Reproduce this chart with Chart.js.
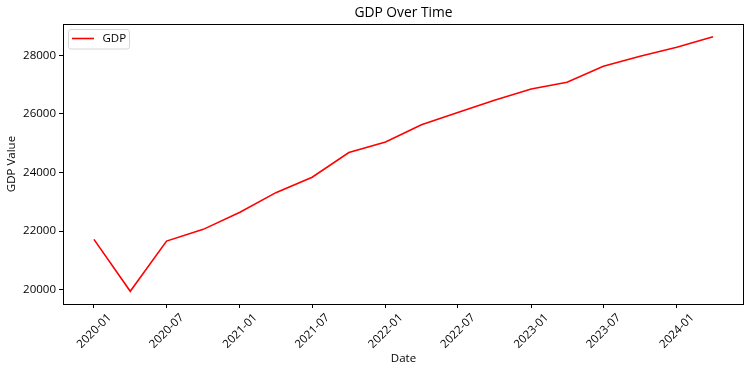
<!DOCTYPE html>
<html><head><meta charset="utf-8">
<script src="https://cdn.jsdelivr.net/npm/chart.js@4/dist/chart.umd.min.js"></script>
<style>html,body{margin:0;padding:0;background:#fff;overflow:hidden}#wrap{width:751px;height:373px;position:relative}</style>
</head><body><div id="wrap"><canvas id="c" width="751" height="373"></canvas></div>
<script>
const dates = ['2020-01-01','2020-04-01','2020-07-01','2020-10-01','2021-01-01','2021-04-01','2021-07-01','2021-10-01','2022-01-01','2022-04-01','2022-07-01','2022-10-01','2023-01-01','2023-04-01','2023-07-01','2023-10-01','2024-01-01','2024-04-01'];
const gdpValues = [21714, 19942, 21656, 22057, 22640, 23312, 23840, 24683, 25040, 25630, 26054, 26466, 26856, 27083, 27631, 27974, 28282, 28639];
const xTickLabels = ['2020-01','2020-07','2021-01','2021-07','2022-01','2022-07','2023-01','2023-07','2024-01'];
const yTickValues = [20000, 22000, 24000, 26000, 28000];
const seriesLabel = 'GDP';
const titleText = 'GDP Over Time';
const xTitle = 'Date';
const yTitle = 'GDP Value';

const FONT = "'Open Sans', 'Noto Sans', sans-serif";
const FS = 11.5;
const toMs = s => Date.parse(s + 'T00:00:00Z');
const points = dates.map((d, i) => ({x: toMs(d), y: gdpValues[i]}));
const xs = points.map(p => p.x), ys = points.map(p => p.y);
const xMin = Math.min(...xs), xMax = Math.max(...xs);
const yMin = Math.min(...ys), yMax = Math.max(...ys);
const xm = (xMax - xMin) * 0.05, ym = (yMax - yMin) * 0.05;
const xTickValues = xTickLabels.map(l => toMs(l + '-01'));

const framePlugin = {
  id: 'frame',
  afterDraw(chart) {
    const {ctx, chartArea: a} = chart;
    ctx.save();
    ctx.strokeStyle = '#000';
    ctx.lineWidth = 1;
    ctx.strokeRect(a.left + 0.5, a.top + 0.5, a.right - a.left - 1, a.bottom - a.top);
    ctx.fillStyle = '#000';
    ctx.font = '13.8px ' + FONT;
    ctx.textAlign = 'center';
    ctx.textBaseline = 'middle';
    ctx.fillText(titleText, (a.left + a.right) / 2, 13.5);
    const lx = a.left + 5.5, ly = a.top + 5.5, lw = 61, lh = 19.5, r = 2.5;
    ctx.beginPath();
    ctx.moveTo(lx + r, ly);
    ctx.arcTo(lx + lw, ly, lx + lw, ly + lh, r);
    ctx.arcTo(lx + lw, ly + lh, lx, ly + lh, r);
    ctx.arcTo(lx, ly + lh, lx, ly, r);
    ctx.arcTo(lx, ly, lx + lw, ly, r);
    ctx.closePath();
    ctx.fillStyle = 'rgba(255,255,255,0.8)';
    ctx.fill();
    ctx.strokeStyle = '#d6d6d6';
    ctx.lineWidth = 1;
    ctx.stroke();
    ctx.beginPath();
    ctx.moveTo(lx + 3.5, ly + 9);
    ctx.lineTo(lx + 25.5, ly + 9);
    ctx.strokeStyle = '#ff0000';
    ctx.lineWidth = 1.6;
    ctx.stroke();
    ctx.fillStyle = '#000';
    ctx.font = FS + 'px ' + FONT;
    ctx.textAlign = 'left';
    ctx.textBaseline = 'middle';
    ctx.fillText(seriesLabel, lx + 34, ly + 9.5);
    ctx.restore();
  }
};

new Chart(document.getElementById('c'), {
  type: 'line',
  data: {datasets: [{label: seriesLabel, data: points, borderColor: '#ff0000', backgroundColor: '#ff0000', borderWidth: 1.6, pointRadius: 0, tension: 0, fill: false}]},
  options: {
    responsive: false, devicePixelRatio: 1, animation: false,
    layout: {padding: {top: 24, right: 7, left: 0, bottom: 0}},
    plugins: {legend: {display: false}, title: {display: false}, tooltip: {enabled: false}},
    scales: {
      x: {
        type: 'linear', min: xMin - xm, max: xMax + xm,
        afterFit(s) { s.height = 69; },
        afterBuildTicks(s) { s.ticks = xTickValues.map(v => ({value: v})); },
        grid: {display: true, drawOnChartArea: false, drawTicks: true, tickLength: 4, tickColor: '#000', tickWidth: 1},
        border: {display: false},
        ticks: {autoSkip: false, minRotation: 45, maxRotation: 45, padding: 3, labelOffset: 15.5, color: '#000', font: {family: FONT, size: FS},
          callback(v) { const i = xTickValues.indexOf(v); return i >= 0 ? xTickLabels[i] : ''; }},
        title: {display: true, text: xTitle, color: '#000', font: {family: FONT, size: FS}, padding: {top: 0, bottom: 7}}
      },
      y: {
        type: 'linear', min: yMin - ym, max: yMax + ym,
        afterFit(s) { s.width = 63; },
        afterBuildTicks(s) { s.ticks = yTickValues.map(v => ({value: v})); },
        grid: {display: true, drawOnChartArea: false, drawTicks: true, tickLength: 4, tickColor: '#000', tickWidth: 1},
        border: {display: false},
        ticks: {padding: 3, color: '#000', font: {family: FONT, size: FS}, callback(v) { return String(v); }},
        title: {display: true, text: yTitle, color: '#000', font: {family: FONT, size: FS}, padding: {top: 5, bottom: 5}}
      }
    }
  },
  plugins: [framePlugin]
});
</script>
</body></html>
